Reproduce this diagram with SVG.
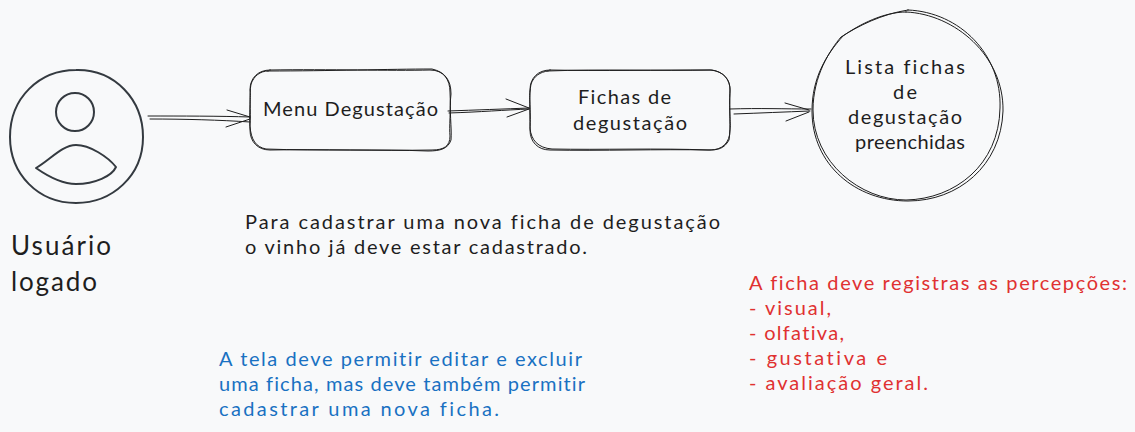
<svg xmlns="http://www.w3.org/2000/svg" width="1135" height="432" viewBox="0 0 1135 432">
<style>
.s{fill:none;stroke:#1e1e1e;stroke-width:1;stroke-linecap:round;stroke-linejoin:round}
.b{fill:none;stroke:#343a40;stroke-width:2;stroke-linecap:round;stroke-linejoin:round}
text{font-family:"Lato","Noto Sans",sans-serif;font-size:20px;fill:#1e1e1e;font-variant-ligatures:none}
.l{font-size:26px}
.r{fill:#e03131}
.u{fill:#1971c2}
</style>
<rect width="1135" height="432" fill="#f8f9fa"/>
<g id="connectors">
<path class="s" d="M148 116C180 116 220 116 250 117M150 119C185 119 220 120 250 122M227 110L250 117M226 127L250 119"/>
<path class="s" d="M448 111C475 110 505 109 529 108M449 113C480 112 505 110 529 109M506 99L529 108M507 117L529 109"/>
<path class="s" d="M730 109C760 108 785 109 811 109M734 114C760 113 785 112 810 111M785 103L809 110M786 121L809 112"/>
</g>
<g id="node-user">
<path class="b" d="M76 70C115 69 143 100 143 137C143 176 112 203 76 203C38 203 10 174 10 137C10 98 39 70 76 70Z"/>
<circle class="b" cx="75" cy="112" r="19"/>
<path class="b" d="M36 168C50 160 62 145 76 145C90 145 108 157 116 167C112 176 95 184 76 184C60 184 46 175 36 168Z"/>
<text class="l" x="11" y="255" textLength="100">Usuário</text>
<text class="l" x="11" y="291" textLength="86">logado</text>
</g>
<g id="node-menu">
<path class="s" d="M270 70C330 69 390 71 430 70C444 70 450 80 450 92C451 110 449 128 450 136C450 146 444 150 432 150C380 151 320 149 270 150C258 150 250 142 250 130C249 110 251 95 250 90C250 78 258 70 270 70Z"/>
<path class="s" d="M268 71C330 71 390 69 432 69C445 72 451 80 451 94C449 110 452 128 451 140C448 149 440 151 428 151C380 149 320 151 266 149C256 147 251 140 250 126C251 110 249 95 251 84C254 76 260 71 268 71Z"/>
<text x="263" y="116" textLength="175">Menu Degustação</text>
</g>
<g id="node-fichas">
<path class="s" d="M550 70C600 71 660 70 710 70C724 71 730 80 730 90C729 110 731 128 730 130C730 143 722 150 710 150C660 149 600 151 550 150C538 150 530 142 530 130C531 110 529 95 530 90C530 78 538 70 550 70Z"/>
<path class="s" d="M548 71C600 69 660 71 712 70C724 72 731 80 730 92C729 110 731 128 729 140C724 149 718 150 708 150C660 148 600 150 552 149C538 148 531 140 530 128C530 110 529 95 531 84C534 76 540 72 548 71Z"/>
<text x="578" y="104" textLength="93">Fichas de</text>
<text x="573" y="130" textLength="114">degustação</text>
</g>
<g id="node-lista">
<path class="s" d="M906 12C955 14 1004 56 1003 111C1001 166 958 201 908 201C856 201 812 165 812 111C812 78 826 55 843 36C860 24 884 12 906 12Z"/>
<path class="s" d="M908 10C960 12 1002 55 1000 108C999 165 955 199 906 200C860 200 813 162 813 110C813 76 830 50 841 37C858 26 882 14 908 10Z"/>
<text x="845" y="74" textLength="120">Lista fichas</text>
<text x="893" y="99" textLength="24">de</text>
<text x="848" y="124" textLength="114">degustação</text>
<text x="855" y="149" textLength="110">preenchidas</text>
</g>
<g id="note-cadastro">
<text x="245" y="229" textLength="475">Para cadastrar uma nova ficha de degustação</text>
<text x="245" y="254" textLength="342">o vinho já deve estar cadastrado.</text>
</g>
<g id="note-percepcoes">
<text class="r" x="749" y="290" textLength="378">A ficha deve registras as percepções:</text>
<text class="r" x="749" y="315" textLength="82">- visual,</text>
<text class="r" x="749" y="340" textLength="95">- olfativa,</text>
<text class="r" x="749" y="365" textLength="138">- gustativa e</text>
<text class="r" x="749" y="390" textLength="179">- avaliação geral.</text>
</g>
<g id="note-tela">
<text class="u" x="219" y="366" textLength="363">A tela deve permitir editar e excluir</text>
<text class="u" x="219" y="391" textLength="366">uma ficha, mas deve também permitir</text>
<text class="u" x="219" y="416" textLength="280">cadastrar uma nova ficha.</text>
</g>
</svg>
